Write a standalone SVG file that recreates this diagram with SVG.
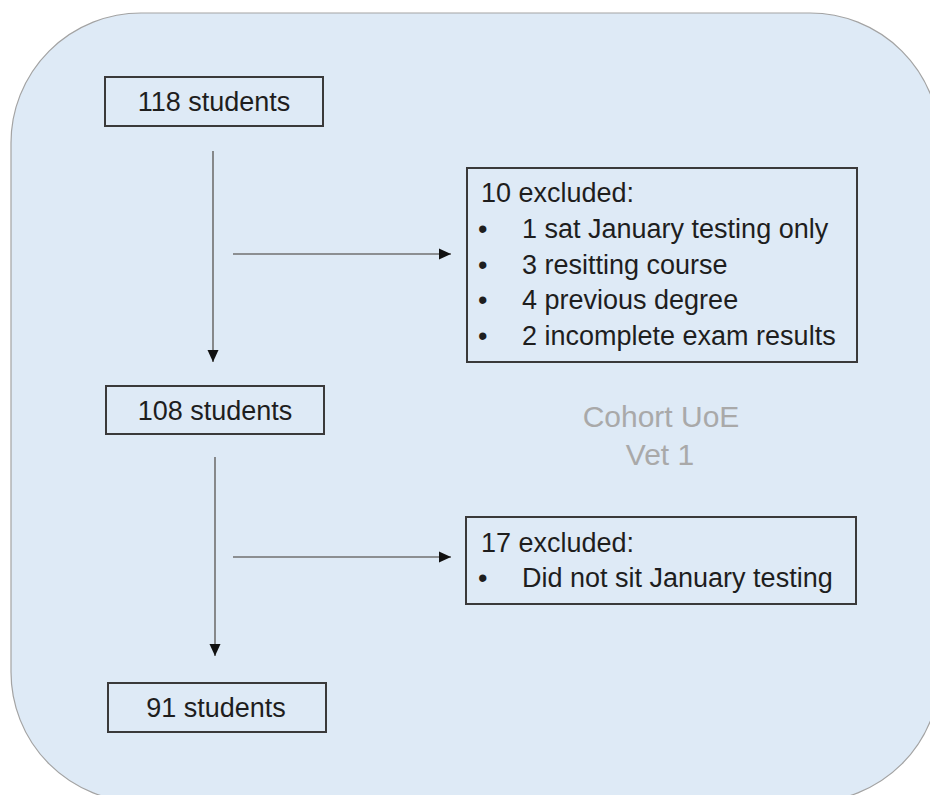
<svg xmlns="http://www.w3.org/2000/svg" width="930" height="795" viewBox="0 0 930 795">
  <style>
    .panel { fill: #deeaf6; stroke: #a3a3a3; stroke-width: 1.2; }
    .box { fill: none; stroke: #3a3a3a; stroke-width: 2; }
    .label { font-family: "Liberation Sans", Arial, sans-serif; font-size: 27px; fill: #1e1e1e; }
    .mid { text-anchor: middle; }
    .cohort { font-family: "Liberation Sans", Arial, sans-serif; font-size: 30px; fill: #a9a9a9; text-anchor: middle; }
    .flow { stroke: #707070; stroke-width: 1.6; fill: none; marker-end: url(#head); }
  </style>
  <defs>
    <marker id="head" markerUnits="userSpaceOnUse" markerWidth="13" markerHeight="13" viewBox="0 0 13 13" refX="12" refY="6.5" orient="auto">
      <path d="M0,1 L12,6.5 L0,12 Z" fill="#111"/>
    </marker>
  </defs>

  <!-- background panel -->
  <rect class="panel" x="11" y="13" width="929" height="789" rx="130" ry="130"/>

  <!-- cohort caption -->
  <text class="cohort" x="661" y="427">Cohort UoE</text>
  <text class="cohort" x="660" y="465">Vet 1</text>

  <g id="connectors">
    <line class="flow" x1="213" y1="151" x2="213" y2="362"/>
    <line class="flow" x1="233" y1="254" x2="451" y2="254"/>
    <line class="flow" x1="215" y1="457" x2="215" y2="656"/>
    <line class="flow" x1="233" y1="557" x2="451" y2="557"/>
  </g>

  <g id="n118">
    <rect class="box" x="105" y="77" width="218" height="49"/>
    <text class="label mid" x="214" y="111">118 students</text>
  </g>

  <g id="n108">
    <rect class="box" x="106" y="386" width="218" height="48"/>
    <text class="label mid" x="215" y="420">108 students</text>
  </g>

  <g id="n91">
    <rect class="box" x="108" y="683" width="218" height="49"/>
    <text class="label mid" x="216" y="717">91 students</text>
  </g>

  <g id="excluded10">
    <rect class="box" x="467" y="168" width="390" height="194"/>
    <text class="label" x="481" y="202">10 excluded:</text>
    <text class="label" x="478" y="238">•</text>
    <text class="label" x="522" y="238">1 sat January testing only</text>
    <text class="label" x="478" y="274">•</text>
    <text class="label" x="522" y="274">3 resitting course</text>
    <text class="label" x="478" y="309">•</text>
    <text class="label" x="522" y="309">4 previous degree</text>
    <text class="label" x="478" y="345">•</text>
    <text class="label" x="522" y="345">2 incomplete exam results</text>
  </g>

  <g id="excluded17">
    <rect class="box" x="466" y="517" width="390" height="87"/>
    <text class="label" x="481" y="552">17 excluded:</text>
    <text class="label" x="478" y="587">•</text>
    <text class="label" x="522" y="587">Did not sit January testing</text>
  </g>
</svg>
